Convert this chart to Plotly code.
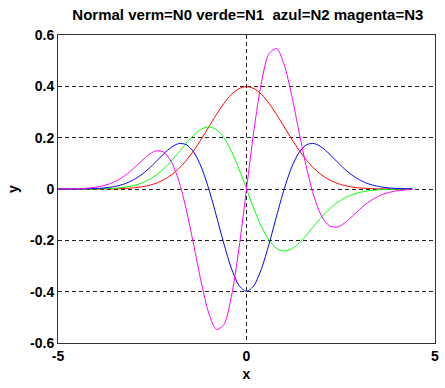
import plotly.graph_objects as go

# x samples
x = [-5.0, -4.8, -4.6, -4.4, -4.2, -4.0, -3.8, -3.6, -3.4, -3.2, -3.0, -2.8, -2.6, -2.4, -2.2,
     -2.0, -1.8, -1.6, -1.4, -1.2, -1.0, -0.8, -0.6, -0.4, -0.2, 0.0,
     0.2, 0.4, 0.6, 0.8, 1.0, 1.2, 1.4, 1.6, 1.8, 2.0, 2.2, 2.4, 2.6, 2.8, 3.0,
     3.2, 3.4, 3.6, 3.8, 4.0, 4.2, 4.4]

# N0 (red)
n0 = [0.0000, 0.0000, 0.0000, 0.0000, 0.0001, 0.0001, 0.0003, 0.0006, 0.0012, 0.0024, 0.0044, 0.0079, 0.0136, 0.0224, 0.0355,
      0.0540, 0.0790, 0.1109, 0.1497, 0.1942, 0.2420, 0.2897, 0.3332, 0.3683, 0.3910, 0.3989,
      0.3910, 0.3683, 0.3332, 0.2897, 0.2420, 0.1942, 0.1497, 0.1109, 0.0790, 0.0540, 0.0355, 0.0224, 0.0136, 0.0079, 0.0044,
      0.0024, 0.0012, 0.0006, 0.0003, 0.0001, 0.0001, 0.0000]

# N1 (green)
n1 = [0.0000, 0.0000, 0.0000, 0.0001, 0.0002, 0.0005, 0.0011, 0.0022, 0.0042, 0.0076, 0.0133, 0.0222, 0.0353, 0.0537, 0.0780,
      0.1080, 0.1421, 0.1775, 0.2096, 0.2330, 0.2420, 0.2318, 0.1999, 0.1473, 0.0782, 0.0000,
      -0.0782, -0.1473, -0.1999, -0.2318, -0.2420, -0.2330, -0.2096, -0.1775, -0.1421, -0.1080, -0.0780, -0.0537, -0.0353, -0.0222, -0.0133,
      -0.0076, -0.0042, -0.0022, -0.0011, -0.0005, -0.0002, -0.0001]

# N2 (blue)
n2 = [0.0000, 0.0001, 0.0002, 0.0005, 0.0010, 0.0020, 0.0039, 0.0073, 0.0130, 0.0220, 0.0355, 0.0541, 0.0782, 0.1066, 0.1362,
      0.1620, 0.1768, 0.1730, 0.1437, 0.0854, 0.0000, -0.1043, -0.2133, -0.3093, -0.3754, -0.3989,
      -0.3754, -0.3093, -0.2133, -0.1043, 0.0000, 0.0854, 0.1437, 0.1730, 0.1768, 0.1620, 0.1362, 0.1066, 0.0782, 0.0541, 0.0355,
      0.0220, 0.0130, 0.0073, 0.0039, 0.0020, 0.0010, 0.0005]

# N3 (magenta)
n3 = [0.0002, 0.0004, 0.0008, 0.0018, 0.0036, 0.0070, 0.0127, 0.0219, 0.0359, 0.0552, 0.0798, 0.1073, 0.1328, 0.1483, 0.1436,
      0.1080, 0.0341, -0.0781, -0.2180, -0.3635, -0.4839, -0.5469, -0.5278, -0.4184, -0.2315, 0.0000,
      0.2315, 0.4184, 0.5278, 0.5469, 0.4839, 0.3635, 0.2180, 0.0781, -0.0341, -0.1080, -0.1436, -0.1483, -0.1328, -0.1073, -0.0798,
      -0.0552, -0.0359, -0.0219, -0.0127, -0.0070, -0.0036, -0.0018]

series = [("N0", n0, "#ff0000"), ("N1", n1, "#00ff00"), ("N2", n2, "#0000ff"), ("N3", n3, "#ff00ff")]

x_ticks = [-5, 0, 5]
y_ticks = [-0.6, -0.4, -0.2, 0, 0.2, 0.4, 0.6]
y_ticktext = ["-0.6", "-0.4", "-0.2", "0", "0.2", "0.4", "0.6"]

fig = go.Figure()
for name, ys, col in series:
    fig.add_trace(go.Scatter(x=x, y=ys, mode="lines", name=name,
                             line=dict(color=col, width=1, shape="spline", smoothing=0.8)))

font_family = "Liberation Sans, Arial, sans-serif"
fig.update_layout(
    width=445, height=388,
    margin=dict(l=58, r=6, t=35, b=45),
    paper_bgcolor="white", plot_bgcolor="white",
    showlegend=False,
    title=dict(text="Normal verm=N0 verde=N1  azul=N2 magenta=N3",
               x=0.557, xanchor="center", y=0.962, yanchor="middle",
               font=dict(family=font_family, size=15, color="black", weight="bold")),
    font=dict(family=font_family, size=14, color="black"),
)
fig.update_xaxes(range=[-5, 5], tickvals=x_ticks, ticktext=[str(v) for v in x_ticks],
                 showgrid=True, gridcolor="#222222", griddash="4px,3px", gridwidth=1,
                 zeroline=False, showline=True, linecolor="#333333", linewidth=1, mirror=True,
                 ticks="", tickfont=dict(size=14, weight="bold"),
                 title=dict(text="x", font=dict(size=14, weight="bold"), standoff=6))
fig.update_yaxes(range=[-0.6, 0.6], tickvals=y_ticks, ticktext=y_ticktext,
                 showgrid=True, gridcolor="#222222", griddash="4px,3px", gridwidth=1,
                 zeroline=False, showline=True, linecolor="#333333", linewidth=1, mirror=True,
                 ticks="", tickfont=dict(size=14, weight="bold"),
                 title=dict(text="y", font=dict(size=14, weight="bold"), standoff=8))

fig.write_html("out.html")
